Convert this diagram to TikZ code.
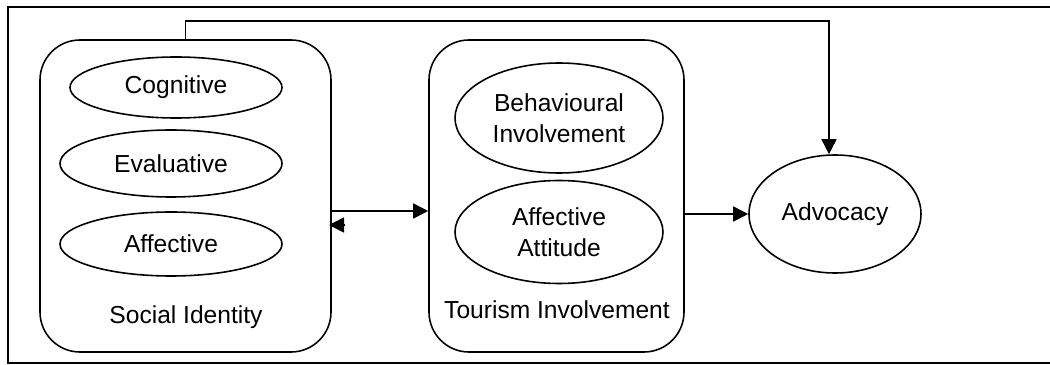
\documentclass[tikz,border=0pt]{standalone}
\usepackage{fontspec}
\setmainfont{Liberation Sans}
\usetikzlibrary{shapes.geometric,arrows.meta}

\tikzset{
	riquadro/.style={draw, rectangle, rounded corners=0.8cm, line width=0.9pt},
	ovale/.style={draw, ellipse, inner sep=0pt, line width=0.9pt, align=center},
	freccia/.style={-{Triangle[length=0.3cm,width=0.3cm]}, line width=0.9pt}
}

\begin{document}
\begin{tikzpicture}[font=\fontsize{14}{17.5}\selectfont]
		
		\useasboundingbox (0,0) rectangle (21,7.3);
		
		%Disegno la cornice
		\draw[line width=0.9pt] (21,7.16) -- (0.16,7.16) -- (0.16,0.04) -- (21,0.04);
		
		%Disegno i nodi del primo riquadro
		\node (identitaSociale) at (3.71,3.38) [riquadro, minimum width=5.82cm, minimum height=6.24cm]{};
		
		\node (cognitiva) at (3.52,5.55) [ovale, minimum width=4.24cm, minimum height=1.22cm]{Cognitive};
		
		\node (valutativa) at (3.42,4.03) [ovale, minimum width=4.44cm, minimum height=1.34cm]{Evaluative};
		
		\node (affettiva) at (3.42,2.42) [ovale, minimum width=4.44cm, minimum height=1.28cm]{Affective};
		
		\node (etichettaIdentita) at (3.72,0.96) {Social Identity};
		
		
		%Disegno i nodi del secondo riquadro
		\node (coinvolgimentoTuristico) at (11.13,3.38) [riquadro, minimum width=5.1cm, minimum height=6.24cm]{};
		
		\node (comportamentale) at (11.18,4.94) [ovale, minimum width=4.16cm, minimum height=2.2cm]{Behavioural\\Involvement};
		
		\node (atteggiamento) at (11.18,2.66) [ovale, minimum width=4.16cm, minimum height=2.06cm]{Affective\\Attitude};
		
		\node (etichettaCoinvolgimento) at (11.14,1.1) {Tourism Involvement};
		
		
		%Disegno il nodo finale
		\node (advocacy) at (16.7,3.02) [ovale, minimum width=3.44cm, minimum height=2.36cm]{Advocacy};
		
		
		%Disegno i collegamenti
		\coordinate (puntaSinistra) at (6.58,2.8);
		\coordinate (codaSinistra) at (6.9,2.8);
		
		\draw[freccia] ([yshift=-0.3cm]identitaSociale.east) -- ([yshift=-0.3cm]coinvolgimentoTuristico.west);
		
		\draw[freccia] (codaSinistra) -- (puntaSinistra);
		
		\draw[freccia] (coinvolgimentoTuristico.east |- advocacy.west) -- (advocacy.west);
		
		\draw[freccia] (identitaSociale.north) -- ++(0,0.36) -| ([xshift=-0.12cm]advocacy.north);
		
		
		\end{tikzpicture}
\end{document}
